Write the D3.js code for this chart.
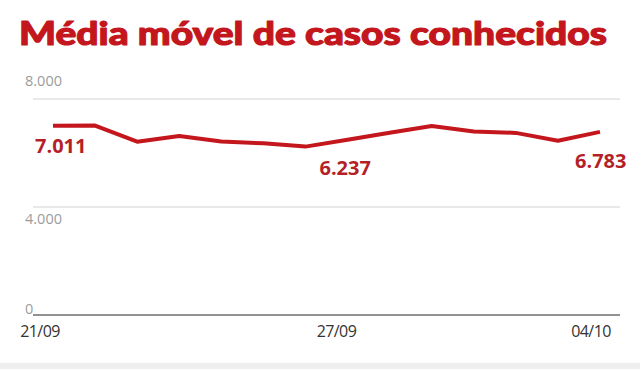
<!DOCTYPE html>
<html>
<head>
<meta charset="utf-8">
<script src="https://cdn.jsdelivr.net/npm/d3@7"></script>
<style>
  body { margin: 0; background: #fff; }
  svg { display: block; }
</style>
</head>
<body>
<svg id="chart" width="640" height="369"></svg>
<script>
// data
var dates = ['21/09', '22/09', '23/09', '24/09', '25/09', '26/09', '27/09',
             '28/09', '29/09', '30/09', '01/10', '02/10', '03/10', '04/10'];
var media = [7011, 7015, 6420, 6630, 6425, 6360, 6237, 6490, 6750, 7000, 6800, 6745, 6455, 6783];
var yTicks = [0, 4000, 8000];
var xTicks = ['21/09', '27/09', '04/10'];
var callouts = ['21/09', '27/09', '04/10'];

var title = 'Média móvel de casos conhecidos';
var red = '#c3161d';

var svg = d3.select('#chart');
var fmt = d3.formatLocale({ decimal: ',', thousands: '.', grouping: [3], currency: ['R$', ''] }).format(',');

var x = d3.scalePoint().domain(dates).range([53, 600]);
var y = d3.scaleLinear().domain([0, 8000]).range([315, 99]);

// title (stroked a bit to get the heavy look)
svg.append('text')
    .attr('x', 19)
    .attr('y', 45)
    .attr('textLength', 588)
    .attr('lengthAdjust', 'spacingAndGlyphs')
    .style('font-family', 'Lato, "Open Sans", sans-serif')
    .style('font-weight', 900)
    .style('font-size', '32px')
    .style('fill', red)
    .style('stroke', red)
    .style('stroke-width', 1.1)
    .style('stroke-linejoin', 'round')
    .text(title);

// gridlines
svg.selectAll('.grid')
    .data(yTicks)
    .enter()
    .append('line')
    .attr('x1', 33)
    .attr('x2', 620)
    .attr('y1', d => y(d))
    .attr('y2', d => y(d))
    .style('stroke', d => d === 0 ? '#6e6e6e' : '#d2d2d2')
    .style('stroke-width', d => d === 0 ? 1.6 : 1.2);

svg.selectAll('.ylab')
    .data(yTicks)
    .enter()
    .append('text')
    .attr('x', 25)
    .attr('y', d => d === 4000 ? y(d) + 17 : (d === 0 ? y(d) - 1 : y(d) - 13))
    .style('font-family', '"Open Sans", sans-serif')
    .style('font-size', '14.5px')
    .style('fill', '#9c9c9c')
    .text(d => fmt(d));

// x labels
var xShift = { '21/09': -13, '27/09': 31, '04/10': -9 };
svg.selectAll('.xlab')
    .data(xTicks)
    .enter()
    .append('text')
    .attr('x', d => x(d) + xShift[d])
    .attr('y', 337)
    .attr('text-anchor', 'middle')
    .style('font-family', '"Open Sans", sans-serif')
    .style('font-size', '16px')
    .style('letter-spacing', '-0.6px')
    .style('fill', '#333')
    .text(d => d);

// line
var line = d3.line()
    .x((d, i) => x(dates[i]))
    .y(d => y(d));

svg.append('path')
    .datum(media)
    .attr('d', line)
    .style('fill', 'none')
    .style('stroke', red)
    .style('stroke-width', 4)
    .style('stroke-linejoin', 'round');

// value callouts
var callShift = { '21/09': [-18, 27], '27/09': [14, 28], '04/10': [-25, 36] };
svg.selectAll('.call')
    .data(callouts)
    .enter()
    .append('text')
    .attr('x', d => x(d) + callShift[d][0])
    .attr('y', d => y(media[dates.indexOf(d)]) + callShift[d][1])
    .style('font-family', '"Open Sans", sans-serif')
    .style('font-weight', 700)
    .style('font-size', '20px')
    .style('fill', '#b51f27')
    .text(d => fmt(media[dates.indexOf(d)]));

// grey strip at the bottom
svg.append('rect')
    .attr('x', 0)
    .attr('y', 363)
    .attr('width', 640)
    .attr('height', 6)
    .style('fill', '#eeeeee');
</script>
</body>
</html>
